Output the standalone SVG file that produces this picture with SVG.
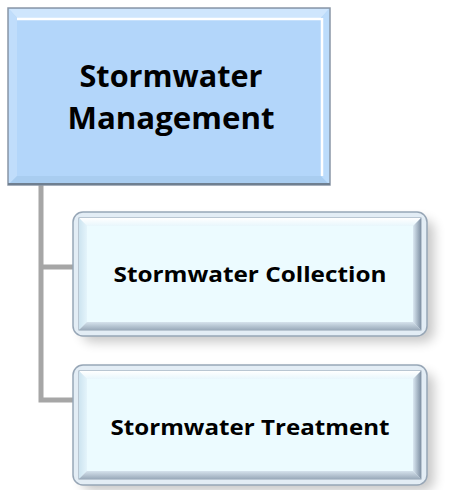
<svg xmlns="http://www.w3.org/2000/svg" width="463" height="490" viewBox="0 0 463 490">
<defs>
<style>
.t{font-family:"Open Sans","Liberation Sans",sans-serif;font-weight:bold;fill:#000;text-anchor:middle}
.conn{fill:none;stroke:#a6a6a6;stroke-width:5}
.ring{fill:#e3edf5;stroke:#97a6b6;stroke-width:1.5}
.face{fill:#ecfbff}
</style>
<linearGradient id="rb" x1="0" y1="0" x2="1" y2="0">
<stop offset="0" stop-color="#dbe8f2"/><stop offset="1" stop-color="#7f90a3"/>
</linearGradient>
<linearGradient id="bb" x1="0" y1="0" x2="0" y2="1">
<stop offset="0" stop-color="#d5e2ec"/><stop offset="1" stop-color="#9aaaba"/>
</linearGradient>
<linearGradient id="lb" x1="0" y1="0" x2="1" y2="0">
<stop offset="0" stop-color="#cde4f0"/><stop offset="1" stop-color="#e4f4fb"/>
</linearGradient>
<linearGradient id="tb" x1="0" y1="0" x2="0" y2="1">
<stop offset="0" stop-color="#ffffff"/><stop offset="1" stop-color="#e8f6fc"/>
</linearGradient>
<filter id="sh" x="-20%" y="-20%" width="140%" height="140%">
<feGaussianBlur stdDeviation="6"/>
</filter>
</defs>

<g id="connectors">
<path class="conn" d="M41,185 V400 H74"/>
<path class="conn" d="M41,267 H74"/>
</g>

<g id="node-management">
<rect x="8" y="8" width="322" height="177" fill="#b3d6fa" stroke="#8a97a6" stroke-width="1.5"/>
<polygon points="9,9 329,9 321,18 17,18" fill="#cfe6fd"/>
<polygon points="9,9 17,18 17,176 9,184" fill="#c0ddfb"/>
<polygon points="9,184 17,176 321,176 329,184" fill="#a9cdf0"/>
<polygon points="329,9 329,184 321,176 321,18" fill="#bcdcfb"/>
<line x1="17" y1="19" x2="321" y2="19" stroke="#ffffff" stroke-width="2.5"/>
<line x1="322" y1="18" x2="322" y2="176" stroke="#ffffff" stroke-width="2.5"/>
<line x1="8" y1="184" x2="330" y2="184" stroke="#6f7f90" stroke-width="2"/>
<text class="t" x="171" y="87" font-size="31" textLength="183" lengthAdjust="spacingAndGlyphs">Stormwater</text>
<text class="t" x="171" y="129" font-size="31" textLength="207" lengthAdjust="spacingAndGlyphs">Management</text>
</g>

<g id="node-collection">
<rect x="82" y="220" width="352" height="122" rx="10" fill="#000" opacity="0.22" filter="url(#sh)"/>
<rect class="ring" x="73" y="212" width="354" height="124" rx="10"/>
<rect x="79" y="218" width="342" height="112" fill="none" stroke="#8f9fb0" stroke-width="1"/>
<polygon points="79,218 421,218 413,226 87,226" fill="url(#tb)"/>
<polygon points="79,218 87,226 87,322 79,330" fill="url(#lb)"/>
<polygon points="421,218 421,330 413,322 413,226" fill="url(#rb)"/>
<polygon points="79,330 87,322 413,322 421,330" fill="url(#bb)"/>
<rect class="face" x="87" y="226" width="326" height="96"/>
<text class="t" x="250" y="282" font-size="22" textLength="273" lengthAdjust="spacingAndGlyphs">Stormwater Collection</text>
</g>

<g id="node-treatment">
<rect x="82" y="373" width="352" height="118" rx="10" fill="#000" opacity="0.22" filter="url(#sh)"/>
<rect class="ring" x="73" y="365" width="354" height="120" rx="10"/>
<rect x="79" y="371" width="342" height="108" fill="none" stroke="#8f9fb0" stroke-width="1"/>
<polygon points="79,371 421,371 413,379 87,379" fill="url(#tb)"/>
<polygon points="79,371 87,379 87,471 79,479" fill="url(#lb)"/>
<polygon points="421,371 421,479 413,471 413,379" fill="url(#rb)"/>
<polygon points="79,479 87,471 413,471 421,479" fill="url(#bb)"/>
<rect class="face" x="87" y="379" width="326" height="92"/>
<text class="t" x="250" y="435" font-size="22" textLength="279" lengthAdjust="spacingAndGlyphs">Stormwater Treatment</text>
</g>
</svg>
